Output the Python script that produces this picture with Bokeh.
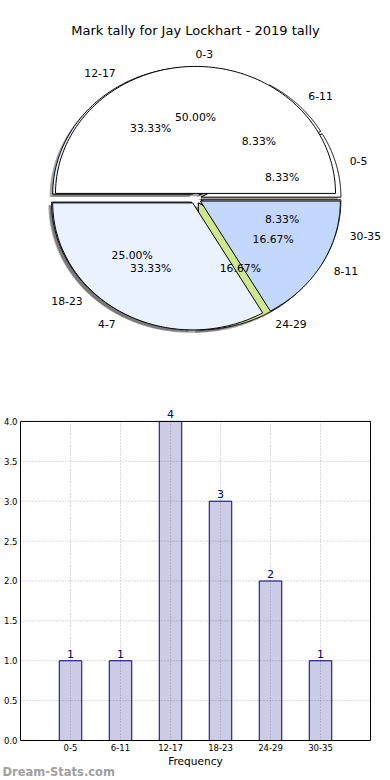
import numpy as np
from bokeh.plotting import figure
from bokeh.models import (Range1d, Label, LabelSet, ColumnDataSource, FixedTicker,
                          PrintfTickFormatter)
from bokeh.embed import file_html
from bokeh.resources import INLINE
from bokeh.core.properties import value

# ---------------- data ----------------
title_text = "Mark tally for Jay Lockhart - 2019 tally"

inner_labels = ["0-3", "4-7", "8-11"]
inner_counts = [6, 4, 2]
inner_colors = ["#FFFFFF", "#EBF2FF", "#C4D8FF"]

outer_labels = ["0-5", "6-11", "12-17", "18-23", "24-29", "30-35"]
outer_counts = [1, 1, 4, 3, 2, 1]
outer_colors = ["#FFFFFF", "#FFFFFF", "#EBF2FF", "#C4D8FF", "#CDE98C", "#FFFFFF"]

bar_categories = ["0-5", "6-11", "12-17", "18-23", "24-29", "30-35"]
bar_values = [1, 1, 4, 3, 2, 1]
y_ticks = [0.0, 0.5, 1.0, 1.5, 2.0, 2.5, 3.0, 3.5, 4.0]
x_axis_label = "Frequency"
watermark = "Dream-Stats.com"

FONT = value("DejaVu Sans")

# ---------------- pie figure ----------------
W = 390
H1 = 344
RX, RY = 140.0, 127.0     # pixel size of unit radius
CX, CY = 195.0, 198.0     # pie centre in figure pixels (from left / top)

pie = figure(width=W, height=H1,
             x_range=Range1d(-CX / RX, (W - CX) / RX),
             y_range=Range1d(-(H1 - CY) / RY, CY / RY),
             output_backend="svg", toolbar_location=None,
             x_axis_location=None, y_axis_location=None, min_border=0)
pie.grid.visible = False
pie.outline_line_color = None
pie.background_fill_color = "white"
pie.border_fill_color = "white"


def wedge_geometry(counts, explode=0.04):
    total = float(sum(counts))
    out = []
    t1 = 0.0
    for c in counts:
        frac = c / total
        t2 = t1 + frac
        a1, a2 = 2 * np.pi * t1, 2 * np.pi * t2
        mid = 0.5 * (a1 + a2)
        cx = explode * np.cos(mid)
        cy = explode * np.sin(mid)
        arc = np.linspace(a1, a2, 120)
        xs = [cx] + list(cx + np.cos(arc))
        ys = [cy] + list(cy + np.sin(arc))
        out.append(dict(xs=xs, ys=ys, mid=mid, cx=cx, cy=cy, pct=100 * frac))
        t1 = t2
    return out


inner = wedge_geometry(inner_counts)
outer = wedge_geometry(outer_counts)

SOX, SOY = -0.022, -0.022
# shadows (below every wedge)
for geo_list in (outer, inner):
    pie.patches(xs=[list(np.array(g["xs"]) + SOX) for g in geo_list],
                ys=[list(np.array(g["ys"]) + SOY) for g in geo_list],
                fill_color="#4d4d4d", fill_alpha=0.5, line_color=None)

# wedges: outer set first, inner set on top
for geo_list, cols in ((outer, outer_colors), (inner, inner_colors)):
    pie.patches(xs=[g["xs"] for g in geo_list], ys=[g["ys"] for g in geo_list],
                fill_color=cols, line_color="black", line_width=1)

# labels
for geo_list, labs in ((outer, outer_labels), (inner, inner_labels)):
    lx, ly, lt, rx_, ry_, rt = [], [], [], [], [], []
    px, py, pt = [], [], []
    for g, lab in zip(geo_list, labs):
        x = g["cx"] + 1.1 * np.cos(g["mid"])
        y = g["cy"] + 1.1 * np.sin(g["mid"])
        if np.cos(g["mid"]) > 0:
            lx.append(x); ly.append(y); lt.append(lab)
        else:
            rx_.append(x); ry_.append(y); rt.append(lab)
        px.append(g["cx"] + 0.6 * np.cos(g["mid"]))
        py.append(g["cy"] + 0.6 * np.sin(g["mid"]))
        pt.append("%.2f%%" % g["pct"])
    pie.text(x=lx, y=ly, text=lt, text_align="left", text_baseline="middle",
             text_font=FONT, text_font_size="10.8px", text_color="black")
    pie.text(x=rx_, y=ry_, text=rt, text_align="right", text_baseline="middle",
             text_font=FONT, text_font_size="10.8px", text_color="black")
    pie.text(x=px, y=py, text=pt, text_align="center", text_baseline="middle",
             text_font=FONT, text_font_size="10.8px", text_color="black")

pie.add_layout(Label(x=CX, y=H1 - 30, x_units="screen", y_units="screen",
                     text=title_text, text_align="center", text_baseline="middle",
                     text_font="DejaVu Sans", text_font_size="13px", text_color="black"))

# ---------------- bar figure ----------------
H2 = 411
idx = list(range(len(bar_categories)))
x_lo, x_hi = -1, len(bar_categories)
y_top = max(y_ticks)
src = ColumnDataSource(dict(x=idx, top=bar_values,
                            lab=[str(v) for v in bar_values]))

bar = figure(width=W, height=H2,
             x_range=Range1d(x_lo - 0.02, x_hi + 0.02),
             y_range=Range1d(-0.0125, 4.2),
             output_backend="svg", toolbar_location=None,
             min_border_left=18, min_border_right=19, min_border_top=61,
             min_border_bottom=14)
bar.background_fill_color = "white"
bar.border_fill_color = "white"
bar.outline_line_color = None
bar.xgrid.visible = False
bar.ygrid.visible = False

# dotted grid, bounded to the plot box
bar.segment(x0=idx, y0=[0] * len(idx), x1=idx, y1=[y_top] * len(idx),
            line_color="#B4B4B4", line_dash="1 2", line_width=1)
bar.segment(x0=[x_lo] * len(y_ticks), y0=y_ticks, x1=[x_hi] * len(y_ticks), y1=y_ticks,
            line_color="#B4B4B4", line_dash="1 2", line_width=1)

bar.vbar(x="x", top="top", bottom=0, width=0.45, source=src,
         fill_color="#000080", fill_alpha=0.2, line_color="#000080", line_width=1)

# plot box
bar.quad(left=[x_lo], right=[x_hi], bottom=[0], top=[y_top],
         fill_color=None, line_color="black", line_width=1)

bar.add_layout(LabelSet(x="x", y="top", text="lab", source=src, y_offset=3,
                        text_align="center", text_baseline="bottom",
                        text_font=FONT, text_font_size="11px",
                        text_color="#000080"))

xa = bar.xaxis[0]
xa.ticker = FixedTicker(ticks=idx)
xa.major_label_overrides = {i: c for i, c in zip(idx, bar_categories)}
xa.major_label_text_font = "DejaVu Sans"
xa.major_label_text_font_size = "8.5px"
xa.major_label_text_color = "black"
xa.major_tick_in = 0
xa.major_tick_out = 0
xa.minor_tick_line_color = None
xa.axis_line_color = None
xa.major_label_standoff = 2

ya = bar.yaxis[0]
ya.ticker = FixedTicker(ticks=y_ticks)
ya.formatter = PrintfTickFormatter(format="%.1f")
ya.major_label_text_font = "DejaVu Sans"
ya.major_label_text_font_size = "8.5px"
ya.major_label_text_color = "black"
ya.major_tick_in = 0
ya.major_tick_out = 0
ya.minor_tick_line_color = None
ya.axis_line_color = None
ya.major_label_standoff = 2

# ---------------- axis label + watermark strip ----------------
H3 = 780 - H1 - H2 - 3
wm = figure(width=W, height=H3, x_range=Range1d(0, 1), y_range=Range1d(0, 1),
            output_backend="svg", toolbar_location=None,
            x_axis_location=None, y_axis_location=None, min_border=0)
wm.grid.visible = False
wm.outline_line_color = None
wm.background_fill_color = "white"
wm.border_fill_color = "white"
wm.add_layout(Label(x=195, y=H3 - 5, x_units="screen", y_units="screen",
                    text=x_axis_label, text_font="DejaVu Sans", text_font_size="10.6px",
                    text_color="black", text_baseline="middle", text_align="center"))
wm.add_layout(Label(x=2, y=6, x_units="screen", y_units="screen",
                    text=watermark, text_font="DejaVu Sans", text_font_size="11.5px",
                    text_font_style="bold", text_color="#A0A0A0",
                    text_baseline="alphabetic", text_align="left"))

open("out.html", "w").write(file_html([pie, bar, wm], INLINE))
